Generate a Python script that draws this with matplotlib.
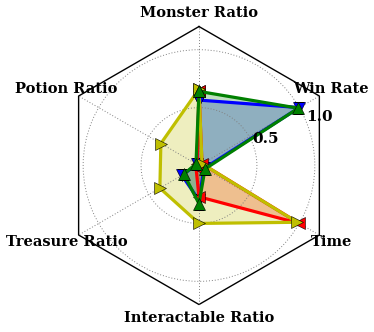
import numpy as np
import matplotlib
matplotlib.use("Agg")
import matplotlib.pyplot as plt

# axes labels, clockwise from the top
labels = ["Monster Ratio", "Win Rate", "Time", "Interactable Ratio",
          "Treasure Ratio", "Potion Ratio"]

# one list per series, same order as labels
blue_vals = [0.565, 1.0, 0.05, 0.30, 0.17, 0.02]
red_vals = [0.64, 0.03, 1.0, 0.27, 0.03, 0.02]
yellow_vals = [0.66, 0.03, 0.98, 0.50, 0.39, 0.38]
green_vals = [0.64, 0.99, 0.06, 0.33, 0.15, 0.03]

rticks = [0.5, 1.0]
rmax = 1.2

series = [
    (blue_vals, "#0000ff", "v"),
    (red_vals, "#ff0000", "<"),
    (yellow_vals, "#bfbf00", ">"),
    (green_vals, "#008000", "^"),
]

n = len(labels)
theta = np.linspace(0, 2 * np.pi, n, endpoint=False)
theta_c = np.append(theta, theta[0])

fig = plt.figure(figsize=(3.74, 3.32), dpi=100)
ax = fig.add_axes([0.1604, 0.0828, 0.7433, 0.8373], projection="polar")
ax.set_theta_offset(np.pi / 2)
ax.set_theta_direction(-1)
ax.set_ylim(0, rmax)

# grid: dotted circles + spokes
ax.set_thetagrids(np.degrees(theta), [""] * n)
ax.set_rgrids(rticks, [""] * len(rticks))
ax.grid(True, color="0.5", linestyle=(0, (1, 2)), linewidth=0.7)
ax.spines["polar"].set_visible(False)

# hexagon frame
ax.plot(theta_c, [rmax] * (n + 1), color="k", lw=1, clip_on=False, zorder=1)

for vals, col, mk in series:
    v = np.append(vals, vals[0])
    ax.fill(theta_c, v, color=col, alpha=0.25, lw=0)
    ax.plot(theta_c, v, color=col, lw=2.3, marker=mk, markersize=8.5,
            markeredgecolor="k", markeredgewidth=0.4)

font = dict(family="DejaVu Serif", weight="bold", size=10.5)
for t, lab in zip(theta, labels):
    ax.text(t, 1.32, lab, ha="center", va="center", clip_on=False, **font)

# radial tick labels at 22.5 deg above horizontal
ang = np.radians(90 - 22.5)
for r in rticks:
    ax.text(ang, r, "%.1f" % r, ha="left", va="baseline", fontdict=dict(font, size=11))

fig.savefig("out.png", dpi=100, facecolor="white")
